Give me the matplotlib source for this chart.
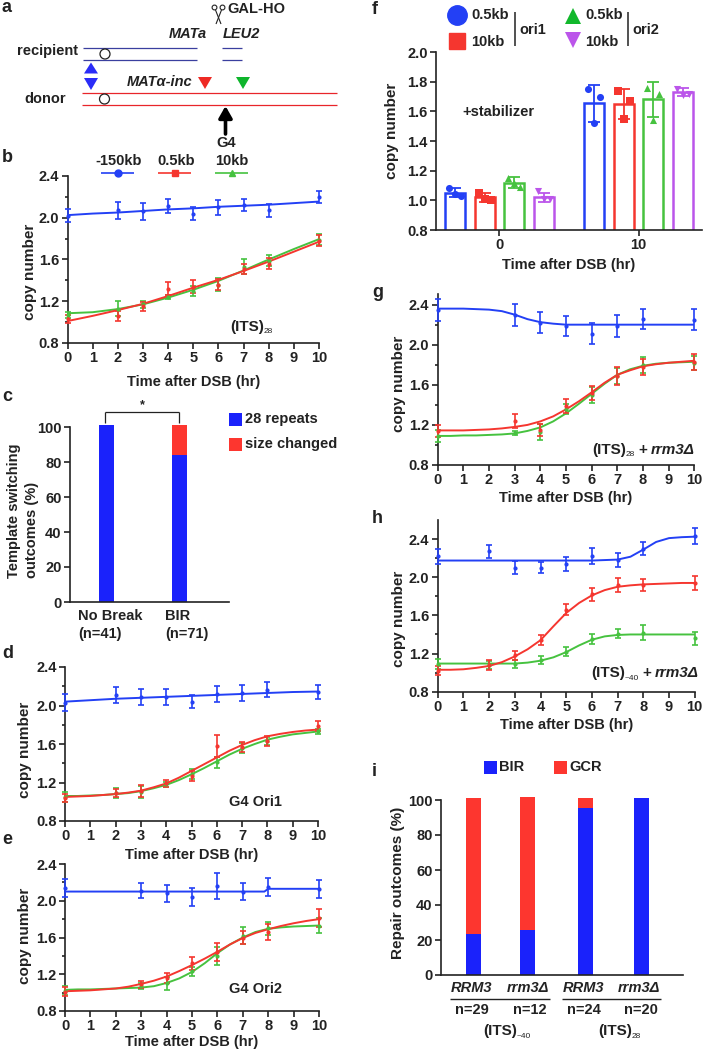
import matplotlib
matplotlib.use("Agg")
import matplotlib.pyplot as plt
from matplotlib.patches import Circle, Polygon, Rectangle

plt.rcParams['font.family'] = ['Liberation Sans', 'DejaVu Sans']
plt.rcParams['font.weight'] = 'bold'
plt.rcParams['text.color'] = '#222222'
plt.rcParams['axes.labelweight'] = 'bold'
plt.rcParams['xtick.color'] = '#222222'
plt.rcParams['ytick.color'] = '#222222'

W, H = 703, 1050

BLUE = '#2340f5'
RED = '#f5362f'
GREEN = '#46c23f'
PURPLE = '#bb55ea'
BAR_BLUE = '#1a22fb'
BAR_RED = '#fd362f'

# half hour grid used for the fitted curves
fit_hours = [0, .5, 1, 1.5, 2, 2.5, 3, 3.5, 4, 4.5, 5, 5.5, 6, 6.5, 7, 7.5, 8, 8.5, 9, 9.5, 10]

# panel b
b_hours = [0, 2, 3, 4, 5, 6, 7, 8, 10]
b_blue = [2.02, 2.07, 2.06, 2.11, 2.04, 2.10, 2.12, 2.07, 2.20]
b_blue_err = [.06, .08, .08, .065, .06, .07, .06, .065, .06]
b_red = [1.03, 1.06, 1.15, 1.32, 1.34, 1.36, 1.51, 1.56, 1.78]
b_red_err = [.04, .05, .04, .06, .06, .05, .05, .05, .05]
b_green = [1.07, 1.13, 1.17, 1.24, 1.30, 1.36, 1.53, 1.59, 1.79]
b_green_err = [.03, .07, .03, .02, .05, .06, .07, .05, .05]
b_fit_x = [0, 1, 2, 3, 4, 5, 6, 7, 8, 9, 10]
b_blue_fit = [2.025, 2.04, 2.05, 2.065, 2.08, 2.09, 2.105, 2.115, 2.125, 2.14, 2.155]
b_red_fit = [1.01, 1.06, 1.115, 1.175, 1.25, 1.33, 1.405, 1.49, 1.58, 1.675, 1.77]
b_green_fit = [1.085, 1.095, 1.125, 1.17, 1.235, 1.31, 1.395, 1.495, 1.60, 1.70, 1.795]

# panel c
c_labels = ['No Break', 'BIR']
c_counts = ['(n=41)', '(n=71)']
c_same = [101, 84]
c_changed = [0, 17]

# panel d
d_hours = [0, 2, 3, 4, 5, 6, 7, 8, 10]
d_blue = [2.03, 2.11, 2.09, 2.09, 2.04, 2.12, 2.13, 2.165, 2.14]
d_blue_err = [.085, .08, .085, .085, .065, .085, .08, .08, .07]
d_red = [1.04, 1.09, 1.11, 1.19, 1.27, 1.58, 1.57, 1.63, 1.79]
d_red_err = [.04, .04, .06, .04, .05, .11, .05, .05, .05]
d_green = [1.05, 1.09, 1.10, 1.18, 1.29, 1.41, 1.56, 1.63, 1.73]
d_green_err = [.05, .05, .06, .03, .05, .06, .05, .04, .03]
d_blue_fit_x = [0, 1, 2, 3, 4, 5, 6, 7, 8, 9, 10]
d_blue_fit = [2.04, 2.055, 2.07, 2.08, 2.09, 2.10, 2.11, 2.12, 2.13, 2.14, 2.145]
d_red_fit = [1.05, 1.055, 1.06, 1.07, 1.08, 1.095, 1.115, 1.15, 1.19, 1.25, 1.32,
             1.39, 1.46, 1.53, 1.59, 1.64, 1.68, 1.705, 1.725, 1.74, 1.75]
d_green_fit = [1.06, 1.06, 1.065, 1.07, 1.08, 1.09, 1.11, 1.14, 1.175, 1.225, 1.285,
               1.35, 1.42, 1.49, 1.55, 1.60, 1.645, 1.675, 1.70, 1.715, 1.73]

# panel e
e_hours = [0, 3, 4, 5, 6, 7, 8, 10]
e_blue = [2.14, 2.11, 2.08, 2.04, 2.16, 2.10, 2.15, 2.13]
e_blue_err = [.10, .085, .09, .10, .14, .095, .10, .095]
e_red = [1.01, 1.09, 1.16, 1.32, 1.44, 1.60, 1.66, 1.81]
e_red_err = [.05, .04, .05, .07, .10, .07, .09, .10]
e_green = [1.02, 1.07, 1.10, 1.23, 1.40, 1.62, 1.70, 1.73]
e_green_err = [.05, .03, .07, .05, .10, .09, .07, .08]
e_blue_fit_x = [0, 7.85, 8, 10]
e_blue_fit = [2.10, 2.10, 2.13, 2.13]
e_red_fit = [1.015, 1.02, 1.025, 1.035, 1.045, 1.065, 1.095, 1.13, 1.175, 1.235, 1.30,
             1.37, 1.445, 1.525, 1.595, 1.65, 1.69, 1.725, 1.755, 1.78, 1.80]
e_green_fit = [1.03, 1.035, 1.035, 1.04, 1.045, 1.05, 1.055, 1.07, 1.105, 1.155, 1.225,
               1.32, 1.43, 1.525, 1.60, 1.66, 1.695, 1.71, 1.72, 1.725, 1.73]

# panel f
f_groups = ['0', '10']
f_names = ['0.5kb', '10kb', '0.5kb', '10kb']
f_means = [[1.05, 1.02, 1.12, 1.02], [1.655, 1.65, 1.68, 1.73]]
f_errs = [[.03, .03, .035, .03], [.125, .10, .12, .025]]
f_points = [[[1.08, 1.03, 1.045], [1.05, 1.00, 1.01], [1.15, 1.09, 1.12], [1.06, 1.01, 1.01]],
            [[1.75, 1.70, 1.52], [1.74, 1.67, 1.55], [1.76, 1.72, 1.54], [1.75, 1.72, 1.71]]]
f_jitter = [-.2, .2, 0]

# panel g
g_hours = [0, 3, 4, 5, 6, 7, 8, 10]
g_blue = [2.35, 2.30, 2.22, 2.19, 2.11, 2.19, 2.26, 2.25]
g_blue_err = [.11, .11, .105, .10, .105, .11, .10, .105]
g_red = [1.14, 1.24, 1.15, 1.39, 1.52, 1.69, 1.78, 1.83]
g_red_err = [.06, .07, .06, .07, .07, .09, .08, .08]
g_green = [1.09, 1.12, 1.13, 1.36, 1.50, 1.69, 1.80, 1.82]
g_green_err = [.06, .02, .08, .05, .08, .08, .08, .07]
g_blue_fit = [2.36, 2.36, 2.36, 2.355, 2.35, 2.335, 2.30, 2.255, 2.225, 2.21, 2.20,
              2.20, 2.20, 2.20, 2.20, 2.20, 2.20, 2.20, 2.20, 2.20, 2.20]
g_red_fit = [1.145, 1.145, 1.145, 1.15, 1.155, 1.165, 1.18, 1.20, 1.235, 1.285, 1.355,
             1.435, 1.525, 1.62, 1.70, 1.745, 1.785, 1.805, 1.82, 1.83, 1.84]
g_green_fit = [1.09, 1.09, 1.095, 1.095, 1.10, 1.105, 1.115, 1.14, 1.175, 1.235, 1.315,
               1.41, 1.51, 1.61, 1.70, 1.755, 1.79, 1.81, 1.82, 1.825, 1.83]

# panel h
h_hours = [0, 2, 3, 4, 5, 6, 7, 8, 10]
h_blue = [2.22, 2.27, 2.10, 2.10, 2.14, 2.22, 2.18, 2.30, 2.43]
h_blue_err = [.08, .07, .065, .06, .075, .085, .07, .07, .085]
h_red = [1.02, 1.08, 1.18, 1.34, 1.66, 1.82, 1.92, 1.92, 1.94]
h_red_err = [.05, .05, .05, .05, .06, .07, .07, .06, .07]
h_green = [1.09, 1.08, 1.09, 1.13, 1.22, 1.35, 1.41, 1.42, 1.36]
h_green_err = [.05, .04, .04, .04, .05, .05, .05, .08, .07]
h_blue_fit = [2.175, 2.175, 2.175, 2.175, 2.175, 2.175, 2.175, 2.175, 2.175, 2.175, 2.175,
              2.175, 2.175, 2.18, 2.185, 2.215, 2.29, 2.37, 2.41, 2.42, 2.425]
h_red_fit = [1.03, 1.03, 1.035, 1.05, 1.07, 1.11, 1.17, 1.245, 1.34, 1.485, 1.625,
             1.73, 1.81, 1.865, 1.90, 1.915, 1.925, 1.93, 1.935, 1.94, 1.94]
h_green_fit = [1.095, 1.095, 1.095, 1.095, 1.095, 1.095, 1.095, 1.105, 1.125, 1.16, 1.215,
               1.285, 1.345, 1.38, 1.395, 1.40, 1.40, 1.40, 1.40, 1.40, 1.40]

# panel i
i_labels = ['RRM3', 'rrm3Δ', 'RRM3', 'rrm3Δ']
i_counts = ['n=29', 'n=12', 'n=24', 'n=20']
i_bir = [23.4, 25.5, 95.2, 101]
i_gcr = [77.6, 76, 5.8, 0]


fig = plt.figure(figsize=(W / 100, H / 100), dpi=100)


def px_axes(left, right, top, bottom):
    return fig.add_axes([left / W, 1 - bottom / H, (right - left) / W, (bottom - top) / H])


def label(x, y, s, size=10.5, ha='left', **kw):
    fig.text(x / W, 1 - y / H, s, fontsize=size, ha=ha, va='center', **kw)


def style(ax):
    ax.spines['top'].set_visible(False)
    ax.spines['right'].set_visible(False)
    for side in ['left', 'bottom']:
        ax.spines[side].set_linewidth(1.2)
        ax.spines[side].set_color('#222222')
    ax.patch.set_alpha(0)
    ax.tick_params(width=1.2, length=4, labelsize=10.5, pad=2)


def curve_panel(box, ymax, hours, series, ylab_x, ylab_y, xlab_y):
    ax = px_axes(*box)
    # blue first, then green, red goes on top
    for vals, err, fx, fy, col in series:
        ax.plot(fx, fy, color=col, lw=1.4, zorder=3)
        ax.errorbar(hours, vals, yerr=err, fmt='o', color=col, ms=2, elinewidth=1.2,
                    capsize=2.4, capthick=1.2, clip_on=False, zorder=3)
    ax.set_xlim(0, 10)
    ax.set_ylim(0.8, ymax)
    ax.set_xticks(range(11))
    ax.set_yticks([.8, 1.2, 1.6, 2.0, 2.4])
    ax.set_yticks([1.0, 1.4, 1.8, 2.2], minor=True)
    ax.tick_params(which='minor', width=1.2, length=2.5)
    style(ax)
    label(ylab_x, ylab_y, 'copy number', size=11, rotation=90, ha='center')
    label((box[0] + box[1]) / 2, xlab_y, 'Time after DSB (hr)', ha='center')
    return ax


def its(x, y, sub, suffix=None, plus_x=0, sub_x=34):
    label(x, y, '(ITS)', size=11)
    label(x + sub_x, y + 5, sub, size=6, fontweight='normal')
    if suffix:
        label(plus_x, y, '+', size=11)
        label(plus_x + 13, y, suffix, size=11, style='italic')


# panel b
curve_panel((67.5, 319, 176, 343), 2.4, b_hours, [
    (b_blue, b_blue_err, b_fit_x, b_blue_fit, BLUE),
    (b_green, b_green_err, b_fit_x, b_green_fit, GREEN),
    (b_red, b_red_err, b_fit_x, b_red_fit, RED)], 30, 272, 382)
its(230, 327, '28')

# panel c
ax = px_axes(70, 229, 427, 602)
ax.bar([0, 1], c_same, width=.205, color=BAR_BLUE, clip_on=False)
ax.bar([0, 1], c_changed, bottom=c_same, width=.205, color=BAR_RED, clip_on=False)
ax.set_xlim(-.5, 1.678)
ax.set_ylim(0, 100)
ax.set_xticks([])
ax.set_yticks([0, 20, 40, 60, 80, 100])
style(ax)
for cx, lab, cnt in zip([78, 165], c_labels, c_counts):
    label(cx, 616, lab)
    label(cx, 634, cnt)
fig.text(14 / W, 1 - 578 / H, 'Template switching', rotation=90, fontsize=10.5, ha='center', va='bottom')
fig.text(32 / W, 1 - 578 / H, 'outcomes (%)', rotation=90, fontsize=10.5, ha='center', va='bottom')
label(142, 405, '*', size=9, ha='center')
label(245, 419, '28 repeats')
label(245, 444, 'size changed')

# panel d
curve_panel((65, 318, 667, 821), 2.4, d_hours, [
    (d_blue, d_blue_err, d_blue_fit_x, d_blue_fit, BLUE),
    (d_green, d_green_err, fit_hours, d_green_fit, GREEN),
    (d_red, d_red_err, fit_hours, d_red_fit, RED)], 25, 750, 855)
label(229, 802, 'G4 Ori1')

# panel e
curve_panel((65, 319, 864, 1011), 2.4, e_hours, [
    (e_blue, e_blue_err, e_blue_fit_x, e_blue_fit, BLUE),
    (e_green, e_green_err, fit_hours, e_green_fit, GREEN),
    (e_red, e_red_err, fit_hours, e_red_fit, RED)], 25, 936, 1042)
label(229, 989, 'G4 Ori2')

# panel f
ax = px_axes(436, 702, 52, 230)
f_colors = [BLUE, RED, GREEN, PURPLE]
f_marks = ['o', 's', '^', 'v']
for g, start in enumerate([-1.5, 3.2]):
    for k in range(4):
        xpos = start + k
        ax.bar(xpos, f_means[g][k], width=.68, fill=False, edgecolor=f_colors[k], linewidth=1.8)
        ax.errorbar(xpos, f_means[g][k], yerr=f_errs[g][k], color=f_colors[k], elinewidth=1.3,
                    capsize=4.5, capthick=1.3)
        ax.scatter([xpos + j for j in f_jitter], f_points[g][k], color=f_colors[k],
                   marker=f_marks[k], s=26, linewidths=0, zorder=3)
ax.set_xlim(-2.14, 6.84)
ax.set_ylim(.8, 2.0)
ax.set_xticks([0, 4.7])
ax.set_xticklabels(f_groups)
ax.set_yticks([.8, 1.0, 1.2, 1.4, 1.6, 1.8, 2.0])
style(ax)
label(392, 131, 'copy number', size=11, rotation=90, ha='center')
label(569, 265, 'Time after DSB (hr)', ha='center')
label(462, 112, '+stabilizer')

# panel g
curve_panel((437.7, 694.3, 294, 465), 2.4 + 10 / 302 * 3.2, g_hours, [
    (g_blue, g_blue_err, fit_hours, g_blue_fit, BLUE),
    (g_green, g_green_err, fit_hours, g_green_fit, GREEN),
    (g_red, g_red_err, fit_hours, g_red_fit, RED)], 399, 384, 498)
its(592, 450, '28', 'rrm3Δ', 638)

# panel h
curve_panel((437.7, 694.7, 520, 691.7), 2.6, h_hours, [
    (h_blue, h_blue_err, fit_hours, h_blue_fit, BLUE),
    (h_green, h_green_err, fit_hours, h_green_fit, GREEN),
    (h_red, h_red_err, fit_hours, h_red_fit, RED)], 399, 619, 725)
its(591, 673, '~40', 'rrm3Δ', 642)

# panel i
ax = px_axes(441, 682.7, 800, 975)
i_x = [0, 1, 2.07, 3.12]
ax.bar(i_x, i_bir, width=.28, color=BAR_BLUE, clip_on=False)
ax.bar(i_x, i_gcr, bottom=i_bir, width=.28, color=BAR_RED, clip_on=False)
ax.set_xlim(-.6, 3.876)
ax.set_ylim(0, 100)
ax.set_xticks([])
ax.set_yticks([0, 20, 40, 60, 80, 100])
style(ax)
label(398, 883, 'Repair outcomes (%)', size=11, rotation=90, ha='center')
for lx, s in zip([471, 528, 583, 639], i_labels):
    label(lx, 988, s, ha='center', style='italic')
for lx, s in zip([472, 530, 584, 641], i_counts):
    label(lx, 1010, s, ha='center')
its(483, 1031, '~40')
its(598, 1031, '28')
label(499, 767, 'BIR')
label(569, 767, 'GCR')

# overlay in pixel coordinates for the schematic and the legends
ov = fig.add_axes([0, 0, 1, 1])
ov.set_xlim(0, W)
ov.set_ylim(H, 0)
ov.axis('off')
ov.patch.set_alpha(0)


def tri(cx, cy, w, h, col, up=True):
    s = -1 if up else 1
    ov.add_patch(Polygon([(cx - w / 2, cy - s * h / 2), (cx + w / 2, cy - s * h / 2), (cx, cy + s * h / 2)],
                         closed=True, color=col, lw=0))


def seg(x0, y0, x1, y1, col='#222222', lw=1.0):
    ov.plot([x0, x1], [y0, y1], color=col, lw=lw, solid_capstyle='butt')


# panel letters
for s, x, y in [('a', 3, 8), ('b', 3, 157), ('c', 3, 396), ('d', 3, 654), ('e', 3, 840),
                ('f', 373, 9), ('g', 373, 292), ('h', 373, 518), ('i', 373, 772)]:
    label(x - 1, y, s, size=13)

# panel a
for y in [48, 60]:
    seg(83, y, 197, y, '#3a3f9f', .9)
    seg(222, y, 242, y, '#3a3f9f', .9)
for y in [93.3, 105.3]:
    seg(81.5, y, 337, y, '#e8252a', .9)
ov.add_patch(Circle((105, 54), 5, fc='white', ec='#222222', lw=.9, zorder=3))
ov.add_patch(Circle((104.5, 99), 5, fc='white', ec='#222222', lw=.9, zorder=3))
tri(91, 68, 14, 11, '#2a2cf8', up=True)
tri(91, 84, 14, 12, '#2a2cf8', up=False)
tri(205, 83, 14, 12, '#ee2a24', up=False)
tri(243, 83, 14, 12, '#0fb52c', up=False)
ov.annotate('', xy=(225.5, 106), xytext=(225.5, 134),
            arrowprops=dict(arrowstyle='-|>,head_width=.4,head_length=.7', color='black', lw=2.6, shrinkA=0, shrinkB=0))
ov.add_patch(Circle((214.5, 7.5), 2.4, fc='none', ec='#222222', lw=.8))
ov.add_patch(Circle((222.5, 7.5), 2.4, fc='none', ec='#222222', lw=.8))
seg(215.5, 10, 221, 24, lw=.8)
seg(221.5, 10, 216, 24, lw=.8)
label(227, 9, 'GAL-HO', size=10.5)
label(188, 34, 'MATa', ha='center', style='italic')
label(241, 34, 'LEU2', ha='center', style='italic')
label(78, 51, 'recipient', ha='right')
label(45, 99, 'donor', ha='center')
label(160, 82, 'MATα-inc', ha='center', style='italic')
label(226, 143, 'G4', ha='center')
for cx, s, x0, col, m in [(119, '-150kb', 101, BLUE, 'o'), (176, '0.5kb', 158, RED, 's'), (232, '10kb', 215, GREEN, '^')]:
    label(cx, 161, s, ha='center')
    seg(x0, 173, x0 + 33, 173, col, 1.2)
    ov.plot(x0 + 16.5, 173, m, color=col, ms=5)

# panel c extras
seg(104.5, 423, 104.5, 412, lw=.9)
seg(104.5, 412, 179, 412, lw=.9)
seg(179, 412, 179, 423, lw=.9)
ov.add_patch(Rectangle((229, 413), 13, 13, color=BAR_BLUE, lw=0))
ov.add_patch(Rectangle((229, 438), 13, 12.5, color=BAR_RED, lw=0))

# panel f legend
ov.plot(457, 15, 'o', color=BLUE, ms=14)
ov.plot(457, 41, 's', color=RED, ms=11.5)
ov.plot(573, 16, '^', color='#12b82c', ms=12, mew=0)
ov.plot(573, 40, 'v', color=PURPLE, ms=12, mew=0)
for x, y, s in zip([471, 471, 585, 585], [15, 42, 15, 42], f_names):
    label(x, y, s)
seg(515, 12, 515, 46, lw=1.1)
seg(628, 12, 628, 46, lw=1.1)
label(519, 30, 'ori1')
label(632, 30, 'ori2')

# panel i extras
ov.add_patch(Rectangle((483.5, 761), 13, 13, color=BAR_BLUE, lw=0))
ov.add_patch(Rectangle((554, 761), 13, 13, color=BAR_RED, lw=0))
seg(450, 998.7, 550, 998.7, lw=1.0)
seg(562, 998.7, 661, 998.7, lw=1.0)

fig.savefig('out.png', dpi=100)
